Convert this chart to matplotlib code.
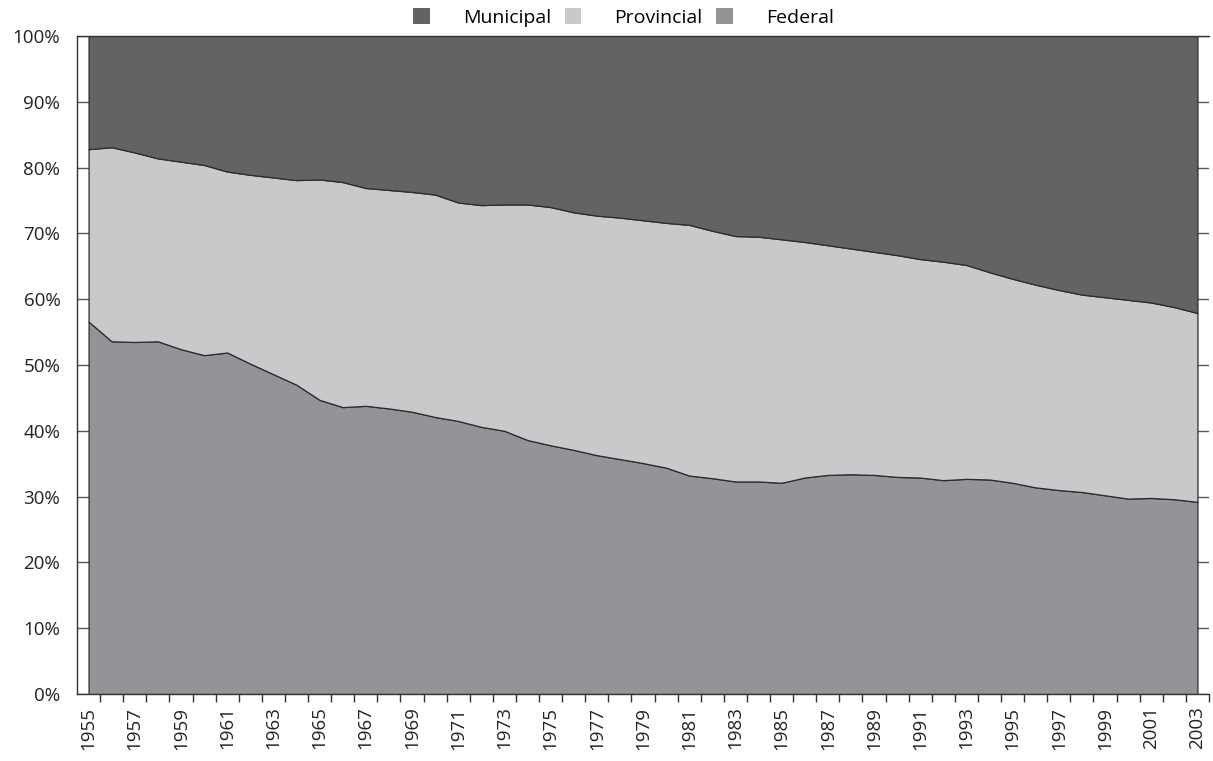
"""Share of government spending by level, 1955-2003 (100% stacked area)."""

import matplotlib
matplotlib.use("Agg")
import matplotlib.pyplot as plt
import matplotlib.patches as mpatches
import numpy as np
from matplotlib.ticker import FixedLocator, PercentFormatter

plt.rcParams["font.family"] = ["Open Sans", "DejaVu Sans"]

years = list(range(1955, 2004))

# shares in percent
federal = [
    56.6, 53.6, 53.5, 53.6, 52.4, 51.5, 51.9, 50.2, 48.6, 47.0,
    44.7, 43.6, 43.8, 43.4, 42.9, 42.1, 41.5, 40.6, 40.0, 38.6,
    37.8, 37.1, 36.3, 35.7, 35.1, 34.4, 33.2, 32.8, 32.3, 32.3,
    32.1, 32.9, 33.3, 33.4, 33.3, 33.0, 32.9, 32.5, 32.7, 32.6,
    32.1, 31.4, 31.0, 30.7, 30.2, 29.7, 29.8, 29.6, 29.2,
]
provincial = [
    26.2, 29.5, 28.8, 27.8, 28.5, 28.9, 27.5, 28.7, 29.9, 31.1,
    33.5, 34.2, 33.1, 33.2, 33.4, 33.8, 33.2, 33.7, 34.4, 35.8,
    36.2, 36.1, 36.4, 36.7, 36.9, 37.2, 38.1, 37.6, 37.3, 37.2,
    37.0, 35.8, 34.9, 34.3, 33.9, 33.7, 33.2, 33.2, 32.5, 31.5,
    31.0, 30.8, 30.4, 30.0, 30.1, 30.2, 29.7, 29.2, 28.7,
]
municipal = [
    17.2, 16.9, 17.7, 18.6, 19.1, 19.6, 20.6, 21.1, 21.5, 21.9,
    21.8, 22.2, 23.1, 23.4, 23.7, 24.1, 25.3, 25.7, 25.6, 25.6,
    26.0, 26.8, 27.3, 27.6, 28.0, 28.4, 28.7, 29.6, 30.4, 30.5,
    30.9, 31.3, 31.8, 32.3, 32.8, 33.3, 33.9, 34.3, 34.8, 35.9,
    36.9, 37.8, 38.6, 39.3, 39.7, 40.1, 40.5, 41.2, 42.1,
]

series_names = ["Federal", "Provincial", "Municipal"]
colours = {"Federal": "#939498", "Provincial": "#c8c9cb", "Municipal": "#636366"}

fig = plt.figure(figsize=(12.13, 7.61), dpi=100)
ax = fig.add_axes([0.0635, 0.088, 0.9332, 0.8647])

ax.stackplot(
    years, federal, provincial, municipal,
    colors=[colours[n] for n in series_names],
    edgecolor="#2b2b2b", linewidth=0.9, zorder=2,
)

ax.set_xlim(years[0] - 0.5, years[-1] + 0.5)
ax.set_ylim(0, 100)

# y axis: gridlines only, labels on the left
ax.set_yticks(np.arange(0, 101, 10))
ax.yaxis.set_major_formatter(PercentFormatter(decimals=0))
ax.grid(axis="y", color="#5a5a5a", linewidth=1.0, zorder=0)
ax.tick_params(axis="y", length=0, pad=12, labelsize=13.5, labelcolor="#222222")

# x axis: ticks between categories, labels every other year
ax.set_xticks(years[::2])
ax.set_xticklabels([str(y) for y in years[::2]], rotation=90)
ax.xaxis.set_minor_locator(FixedLocator([y + 0.5 for y in years]))
ax.tick_params(axis="x", which="major", length=0, pad=9, labelsize=13.5,
               labelcolor="#222222")
ax.tick_params(axis="x", which="minor", length=6, width=1, color="#333333",
               direction="out")

for side in ("left", "top", "bottom"):
    ax.spines[side].set_color("#333333")
    ax.spines[side].set_linewidth(1.0)
ax.spines["right"].set_visible(False)

handles = [mpatches.Patch(facecolor=colours[n], label=n)
           for n in ["Municipal", "Provincial", "Federal"]]
fig.legend(handles=handles, loc="upper center", bbox_to_anchor=(0.514, 1.012),
           ncol=3, frameon=False, fontsize=14, handlelength=0.85,
           handleheight=0.85, handletextpad=1.7, columnspacing=0.7)

fig.savefig("out.png", dpi=100)
